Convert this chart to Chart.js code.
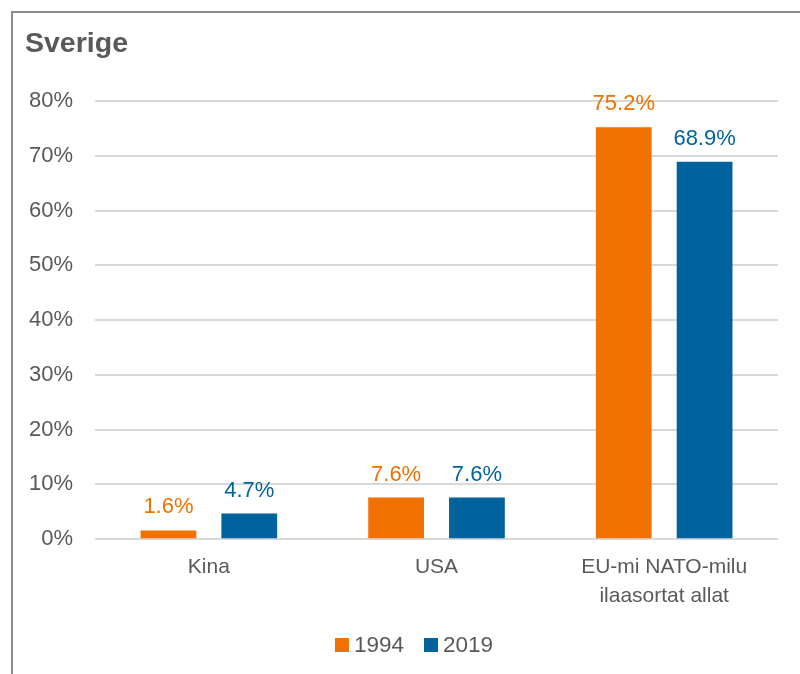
<!DOCTYPE html>
<html>
<head>
<meta charset="utf-8">
<script src="https://cdn.jsdelivr.net/npm/chart.js@4"></script>
<style>
  html, body { margin: 0; padding: 0; background: #fff; }
  #wrap { position: absolute; left: 0; top: 0; width: 800px; height: 674px; }
  #frame { position: absolute; left: 11px; top: 11px; width: 800px; height: 700px;
           border-left: 2px solid #8c8c8c; border-top: 2px solid #8c8c8c; }
  canvas { position: absolute; left: 0; top: 0; }
</style>
</head>
<body>
<div id="wrap">
  <div id="frame"></div>
  <canvas id="Canvas1" width="800" height="674"></canvas>
</div>
<script>
// Sverige: andel i procent
var categories = ["Kina", "USA", ["EU-mi NATO-milu", "ilaasortat allat"]];
var values1994 = [1.6, 7.6, 75.2];
var values2019 = [4.7, 7.6, 68.9];
var yTicks = [0, 10, 20, 30, 40, 50, 60, 70, 80];

var textGray = '#595959';
var fontName = "'Liberation Sans', Arial, sans-serif";

// value labels above bars, title top left and legend at the bottom
var extras = {
    id: 'extras',
    afterDatasetsDraw: function(chart) {
        var ctx = chart.ctx;
        ctx.save();
        ctx.font = '22px ' + fontName;
        ctx.textAlign = 'center';
        ctx.textBaseline = 'bottom';
        chart.data.datasets.forEach(function(ds, i) {
            var meta = chart.getDatasetMeta(i);
            ctx.fillStyle = ds.backgroundColor;
            meta.data.forEach(function(bar, j) {
                ctx.fillText(ds.data[j].toFixed(1) + '%', bar.x, bar.y - 12);
            });
        });

        // title
        ctx.textAlign = 'left';
        ctx.textBaseline = 'alphabetic';
        ctx.fillStyle = textGray;
        ctx.font = 'bold 28.5px ' + fontName;
        ctx.fillText('Sverige', 25, 52);

        // legend
        ctx.font = '22.5px ' + fontName;
        ctx.textBaseline = 'middle';
        var box = 14, gapBox = 5, gapItem = 20, y = 645;
        var widths = chart.data.datasets.map(function(ds) {
            return box + gapBox + ctx.measureText(ds.label).width;
        });
        var total = widths.reduce(function(a, b) { return a + b; }, 0) + gapItem * (widths.length - 1);
        var x = 414 - total / 2;
        chart.data.datasets.forEach(function(ds, i) {
            ctx.fillStyle = ds.backgroundColor;
            ctx.fillRect(x, y - box / 2, box, box);
            ctx.fillStyle = textGray;
            ctx.fillText(ds.label, x + box + gapBox, y + 1);
            x += widths[i] + gapItem;
        });
        ctx.restore();
    }
};

var GKChart = document.getElementById('Canvas1').getContext('2d');
var myChart = new Chart(GKChart, {
    type: 'bar',
    data: {
        labels: categories,
        datasets: [{
            label: '1994',
            data: values1994,
            backgroundColor: '#F07000',
            categoryPercentage: 0.71,
            barPercentage: 0.69
        }, {
            label: '2019',
            data: values2019,
            backgroundColor: '#00639E',
            categoryPercentage: 0.71,
            barPercentage: 0.69
        }]
    },
    options: {
        responsive: false,
        animation: false,
        layout: { padding: { left: 7, right: 22, top: 101, bottom: 58 } },
        plugins: {
            legend: { display: false },
            tooltip: { enabled: false }
        },
        scales: {
            x: {
                grid: { display: false },
                border: { display: false },
                ticks: {
                    color: textGray,
                    font: { family: fontName, size: 21, lineHeight: 1.4 },
                    padding: 5
                }
            },
            y: {
                min: 0,
                max: 80,
                afterBuildTicks: function(axis) {
                    axis.ticks = yTicks.map(function(v) { return { value: v }; });
                },
                grid: { color: '#d9d9d9', lineWidth: 2, drawTicks: false },
                border: { display: false },
                ticks: {
                    color: textGray,
                    font: { family: fontName, size: 22 },
                    padding: 22,
                    callback: function(v) { return v + '%'; }
                }
            }
        }
    },
    plugins: [extras]
});
</script>
</body>
</html>
